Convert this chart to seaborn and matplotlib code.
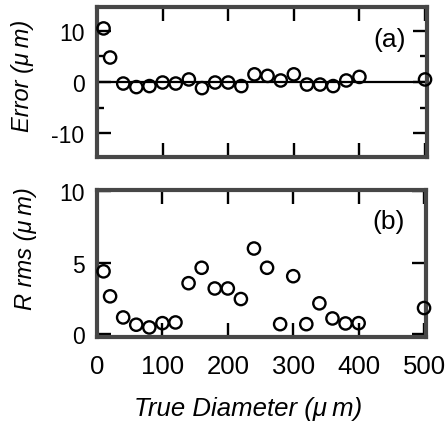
import matplotlib
matplotlib.use("Agg")
import matplotlib.pyplot as plt
from matplotlib.ticker import MultipleLocator, FixedLocator
import seaborn as sns
import pandas as pd

# Measured sizes (true diameter, micrometres)
diameter = [10, 20, 40, 60, 80, 100, 120, 140, 160, 180, 200, 220,
            240, 260, 280, 300, 320, 340, 360, 380, 400, 500]
# Sizing error for each diameter (micrometres)
error = [10.5, 4.8, -0.3, -1.0, -0.8, -0.1, -0.3, 0.5, -1.2, -0.1, -0.1, -0.8,
         1.5, 1.2, 0.3, 1.5, -0.5, -0.5, -0.8, 0.3, 1.0, 0.5]
# RMS spread of the radius for each diameter (micrometres)
rrms = [4.4, 2.65, 1.17, 0.66, 0.47, 0.77, 0.82, 3.57, 4.65, 3.2, 3.2, 2.46,
        6.0, 4.65, 0.7, 4.06, 0.7, 2.16, 1.1, 0.75, 0.77, 1.83]

x_ticks = [0, 100, 200, 300, 400, 500]
err_ticks = [-10, 0, 10]
rrms_ticks = [0, 5, 10]

df = pd.DataFrame({"diameter": diameter, "error": error, "rrms": rrms})

sns.set_style("ticks")
plt.rcParams["font.family"] = ["Liberation Sans", "DejaVu Sans"]
plt.rcParams["axes.unicode_minus"] = False
for key in ("text.color", "axes.labelcolor", "xtick.color", "ytick.color",
            "xtick.labelcolor", "ytick.labelcolor"):
    plt.rcParams[key] = "black"

W, H = 448, 427
fig = plt.figure(figsize=(W / 100, H / 100), dpi=100)

def frac(left, top, right, bottom):
    return [left / W, 1 - bottom / H, (right - left) / W, (bottom - top) / H]

ax_a = fig.add_axes(frac(97, 8, 427, 158))
ax_b = fig.add_axes(frac(97, 191, 426, 338))

frame_color = "#474747"
marker_kw = dict(marker="o", s=78, facecolor="none", edgecolor="black",
                 linewidth=1.7, zorder=3, clip_on=False)
um = "(\u03bc\u2009m)"

# (a) sizing error
ax_a.axhline(0, color="black", lw=1.6, zorder=2)
sns.scatterplot(data=df, x="diameter", y="error", ax=ax_a, **marker_kw)
ax_a.set_xlim(0, 503)
ax_a.set_ylim(-14.7, 14.7)
ax_a.yaxis.set_major_locator(FixedLocator(err_ticks))
ax_a.yaxis.set_minor_locator(MultipleLocator(5))
ax_a.xaxis.set_major_locator(FixedLocator(x_ticks))
ax_a.set_xticklabels([])
ax_a.set_xlabel("")
ax_a.set_ylabel("Error " + um, fontsize=17, style="italic")
ax_a.yaxis.set_label_coords(-0.227, 0.55)
ax_a.yaxis.label.set_va("center")
ax_a.text(0.888, 0.79, "(a)", transform=ax_a.transAxes, fontsize=19,
          ha="center", va="center")

# (b) RMS radius
sns.scatterplot(data=df, x="diameter", y="rrms", ax=ax_b, **marker_kw)
ax_b.set_xlim(0, 503)
ax_b.set_ylim(-0.2, 10.1)
ax_b.yaxis.set_major_locator(FixedLocator(rrms_ticks))
ax_b.xaxis.set_major_locator(FixedLocator(x_ticks))
ax_b.set_xticklabels([str(t) for t in x_ticks])
ax_b.set_xlabel("True Diameter " + um, fontsize=18.5, style="italic")
ax_b.xaxis.set_label_coords(0.46, -0.483)
ax_b.xaxis.label.set_va("center")
ax_b.set_ylabel("R rms " + um, fontsize=17, style="italic")
ax_b.yaxis.set_label_coords(-0.218, 0.605)
ax_b.yaxis.label.set_va("center")
ax_b.text(0.885, 0.789, "(b)", transform=ax_b.transAxes, fontsize=19,
          ha="center", va="center")

for ax in (ax_a, ax_b):
    for sp in ax.spines.values():
        sp.set_visible(True)
        sp.set_linewidth(3)
        sp.set_color(frame_color)
    ax.tick_params(which="major", direction="in", length=10, width=1.7,
                   top=True, right=True, color="black")
    ax.tick_params(which="minor", direction="in", length=5, width=1.7,
                   left=True, right=True, color="black")
    ax.tick_params(axis="y", labelsize=16.5, pad=9)
    ax.tick_params(axis="x", labelsize=18.5, pad=12)

fig.savefig("out.png", dpi=100, facecolor="white")
